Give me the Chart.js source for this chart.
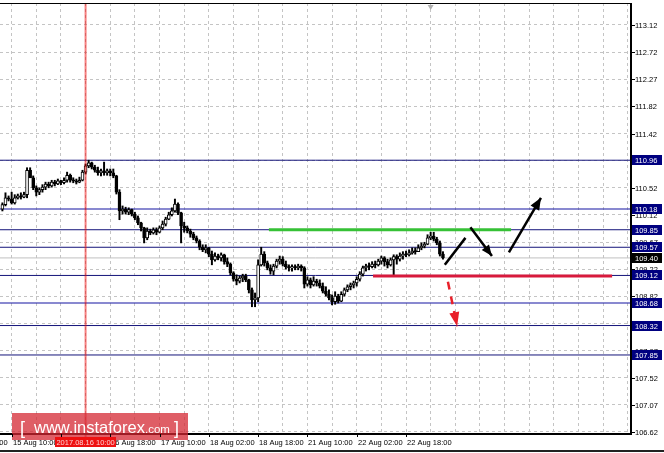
<!DOCTYPE html>
<html><head><meta charset="utf-8">
<script src="https://cdn.jsdelivr.net/npm/chart.js@4/dist/chart.umd.min.js"></script>
<style>html,body{margin:0;padding:0;background:#fff;overflow:hidden}#wrap{width:664px;height:453px;position:relative}</style>
</head><body><div id="wrap"><canvas id="c" width="664" height="453"></canvas></div>
<script>
// ---- Data (H1 candles, index 0 = 15 Aug 07:00) ----
const openP = [110.18,110.25,110.36,110.34,110.28,110.36,110.39,110.37,110.41,110.80,
110.68,110.52,110.45,110.49,110.53,110.58,110.55,110.61,110.58,110.63,
110.60,110.64,110.72,110.64,110.63,110.61,110.64,110.77,110.87,110.92,
110.85,110.80,110.76,110.79,110.76,110.79,110.76,110.71,110.45,110.15,
110.18,110.13,110.17,110.10,110.04,109.96,109.88,109.72,109.83,109.80,
109.85,109.81,109.88,109.94,110.02,110.09,110.15,110.26,110.12,109.91,
109.88,109.83,109.78,109.72,109.67,109.57,109.53,109.56,109.46,109.37,
109.43,109.40,109.45,109.34,109.30,109.16,109.06,109.03,109.08,109.11,
109.05,108.89,108.73,108.76,109.29,109.46,109.32,109.24,109.19,109.27,
109.35,109.38,109.30,109.26,109.24,109.26,109.24,109.27,109.24,108.98,
109.05,108.97,109.03,109.00,108.95,108.87,108.82,108.76,108.70,108.79,
108.71,108.82,108.89,108.94,108.97,109.00,109.06,109.14,109.24,109.27,
109.26,109.30,109.29,109.35,109.40,109.34,109.29,109.37,109.42,109.38,
109.43,109.46,109.45,109.48,109.51,109.50,109.56,109.59,109.62,109.72,
109.75,109.70,109.64,109.46];
const highP = [110.28,110.44,110.39,110.45,110.41,110.42,110.44,110.45,110.84,110.84,
110.71,110.55,110.52,110.57,110.61,110.61,110.64,110.64,110.66,110.64,
110.68,110.77,110.74,110.68,110.66,110.69,110.80,110.90,110.96,110.93,
110.88,110.85,110.82,110.93,110.82,110.82,110.82,110.72,110.49,110.23,
110.21,110.20,110.18,110.13,110.07,109.97,109.89,109.88,109.86,109.88,
109.88,109.91,109.99,110.05,110.13,110.20,110.34,110.28,110.13,109.97,
109.91,109.86,109.81,109.75,109.69,109.61,109.61,109.57,109.51,109.48,
109.46,109.48,109.46,109.40,109.32,109.18,109.13,109.11,109.14,109.14,
109.06,108.92,108.84,109.37,109.57,109.50,109.35,109.29,109.30,109.38,
109.43,109.42,109.35,109.29,109.29,109.29,109.30,109.29,109.26,109.10,
109.08,109.10,109.06,109.05,109.00,108.94,108.89,108.81,108.86,108.82,
108.86,108.92,108.97,109.00,109.03,109.10,109.18,109.27,109.30,109.32,
109.34,109.35,109.38,109.43,109.42,109.38,109.40,109.45,109.45,109.48,
109.50,109.51,109.53,109.56,109.56,109.61,109.64,109.65,109.77,109.81,
109.81,109.73,109.67,109.50];
const lowP = [110.15,110.23,110.31,110.26,110.26,110.34,110.34,110.36,110.36,110.68,
110.49,110.39,110.41,110.45,110.49,110.52,110.53,110.55,110.57,110.57,
110.58,110.61,110.61,110.60,110.58,110.60,110.63,110.74,110.84,110.82,
110.77,110.72,110.71,110.72,110.72,110.71,110.68,110.42,110.01,110.10,
110.10,110.09,110.07,110.01,109.93,109.83,109.64,109.69,109.77,109.78,
109.77,109.80,109.85,109.91,110.01,110.07,110.13,110.09,109.64,109.81,
109.80,109.73,109.69,109.64,109.53,109.50,109.48,109.42,109.29,109.35,
109.37,109.35,109.30,109.26,109.13,109.03,108.97,109.00,109.02,109.02,
108.84,108.62,108.62,108.70,109.27,109.27,109.21,109.14,109.13,109.24,
109.30,109.27,109.22,109.19,109.19,109.21,109.21,109.19,108.92,108.95,
108.92,108.95,108.95,108.92,108.84,108.79,108.73,108.65,108.66,108.68,
108.70,108.79,108.86,108.89,108.92,108.95,109.03,109.11,109.19,109.21,
109.24,109.24,109.27,109.30,109.27,109.24,109.27,109.13,109.30,109.35,
109.38,109.42,109.43,109.46,109.46,109.50,109.53,109.56,109.61,109.69,
109.67,109.61,109.43,109.38];
const closeP = [110.25,110.36,110.34,110.28,110.36,110.39,110.37,110.41,110.80,110.68,
110.52,110.45,110.49,110.53,110.58,110.55,110.61,110.58,110.63,110.60,
110.64,110.72,110.64,110.63,110.61,110.64,110.77,110.87,110.92,110.85,
110.80,110.76,110.79,110.76,110.79,110.76,110.71,110.45,110.15,110.18,
110.13,110.17,110.10,110.04,109.96,109.88,109.72,109.83,109.80,109.85,
109.81,109.88,109.94,110.02,110.09,110.15,110.26,110.12,109.91,109.88,
109.83,109.78,109.72,109.67,109.57,109.53,109.56,109.46,109.37,109.43,
109.40,109.45,109.34,109.30,109.16,109.06,109.03,109.08,109.11,109.05,
108.89,108.73,108.76,109.29,109.46,109.32,109.24,109.19,109.27,109.35,
109.38,109.30,109.26,109.24,109.26,109.24,109.27,109.24,108.98,109.05,
108.97,109.03,109.00,108.95,108.87,108.82,108.76,108.70,108.79,108.71,
108.82,108.89,108.94,108.97,109.00,109.06,109.14,109.24,109.27,109.26,
109.30,109.29,109.35,109.40,109.34,109.29,109.37,109.42,109.38,109.43,
109.46,109.45,109.48,109.51,109.50,109.56,109.59,109.62,109.72,109.75,
109.70,109.64,109.46,109.40];

const xLabelIdx = [-13,3,19,35,51,67,83,99,115,131];
const xLabels = ['14 Aug 18:00','15 Aug 10:00','16 Aug 02:00','16 Aug 18:00','17 Aug 10:00','18 Aug 02:00','18 Aug 18:00','21 Aug 10:00','22 Aug 02:00','22 Aug 18:00'];
const yTickLabels = ['106.62','107.07','107.52','107.97','108.37','108.82','109.22','109.67','110.12','110.52','110.97','111.42','111.82','112.27','112.72','113.12'];
const levels = [110.96,110.18,109.85,109.57,109.12,108.68,108.32,107.85];
const levelLabels = ['110.96','110.18','109.85','109.57','109.12','108.68','108.32','107.85'];
const softLevels = [110.18,108.68];
const currentPrice = 109.40;
const markerIdx = 27;
const markerLabel = '2017.08.16 10:00';
const greenSeg = [[86.5,109.85],[165.1,109.85]];
const redSeg = [[120.3,109.11],[197.9,109.11]];
const zigSeg = [[143.6,109.29],[150.3,109.72]];
const downArrow = [[151.9,109.89],[158.9,109.43]];
const upArrow = [[164.4,109.49],[174.8,110.36]];
const redArrow = [[144.6,109.02],[147.6,108.31]];

// ---- scale geometry ----
const Y_MIN = 106.588, Y_MAX = 113.471;
const X_MIN = -0.779, X_MAX = 204.03;
const yTickVals = yTickLabels.map((t,k)=>106.62 + k*(113.12-106.62)/(yTickLabels.length-1));
const xGridVals = []; for(let v=3; v<=X_MAX; v+=8) xGridVals.push(v);

const idx = openP.map((_,i)=>i);
const wickData = idx.map(i=>({x:i, y:[lowP[i], highP[i]]}));
const bodyData = idx.map(i=>({x:i, y:[openP[i], closeP[i]]}));
const seg = a => a.map(p=>({x:p[0], y:p[1]}));

const lineDs = (data, color, width, order, extra) => Object.assign({
  type:'line', data, borderColor:color, borderWidth:width, pointRadius:0,
  fill:false, tension:0, order, clip:0, borderCapStyle:'butt'
}, extra||{});

const datasets = [];
levels.forEach(v=>{
  const soft = softLevels.includes(v);
  datasets.push(lineDs([{x:-2,y:v},{x:206,y:v}], soft?'rgba(40,40,170,0.55)':'#14147a', soft?2:1, 20));
});
datasets.push(lineDs([{x:-2,y:currentPrice},{x:206,y:currentPrice}], '#c0c0c0', 1, 21));
datasets.push({type:'bar', data:wickData, backgroundColor:'#000', borderWidth:0, barThickness:1.3, grouped:false, order:11, minBarLength:1});
datasets.push({type:'bar', data:bodyData, grouped:false, order:10, barThickness:3, minBarLength:1,
  backgroundColor: c => (closeP[c.dataIndex] >= openP[c.dataIndex] ? '#ffffff' : '#000000'),
  borderColor:'#000', borderWidth:1, borderSkipped:false});
datasets.push(lineDs(seg(greenSeg), '#36c136', 3, 5));
datasets.push(lineDs(seg(redSeg), '#d81a3c', 3, 5));
datasets.push(lineDs(seg(zigSeg), '#000', 2.5, 1));
datasets.push(lineDs(seg(downArrow), '#000', 2.5, 1, {arrowHead:{len:11,w:9}}));
datasets.push(lineDs(seg(upArrow), '#000', 2.5, 1, {arrowHead:{len:12,w:10}}));
datasets.push(lineDs(seg(redArrow), '#e8202a', 2.5, 1, {borderDash:[8,7], arrowHead:{len:14,w:10}}));

const FONT = '7.5px "Liberation Sans", Arial, sans-serif';

const deco = {
  id:'deco',
  afterDatasetsDraw(chart){
    const {ctx, chartArea:ca, scales:{x,y}} = chart;
    ctx.save();
    chart.data.datasets.forEach((ds,di)=>{
      if(!ds.arrowHead) return;
      const m = chart.getDatasetMeta(di);
      const p0 = m.data[0], p1 = m.data[1];
      const a = Math.atan2(p1.y-p0.y, p1.x-p0.x);
      const L = ds.arrowHead.len, W = ds.arrowHead.w;
      const bx = p1.x - Math.cos(a)*L, by = p1.y - Math.sin(a)*L;
      const px = -Math.sin(a)*W/2, py = Math.cos(a)*W/2;
      ctx.fillStyle = ds.borderColor;
      ctx.beginPath(); ctx.moveTo(p1.x,p1.y); ctx.lineTo(bx+px,by+py); ctx.lineTo(bx-px,by-py); ctx.closePath(); ctx.fill();
    });
    const mx = x.getPixelForValue(markerIdx);
    ctx.strokeStyle = 'rgba(240,0,0,0.5)'; ctx.lineWidth = 2;
    ctx.beginPath(); ctx.moveTo(mx, ca.top); ctx.lineTo(mx, 437); ctx.stroke();
    // small gray marker near the top
    ctx.fillStyle = '#b0b0b0';
    const gx = x.getPixelForValue(139);
    ctx.beginPath(); ctx.moveTo(gx-3, ca.top+2); ctx.lineTo(gx+3, ca.top+2); ctx.lineTo(gx, ca.top+7); ctx.closePath(); ctx.fill();
    ctx.restore();
  },
  afterDraw(chart){
    const {ctx, chartArea:ca, scales:{x,y}} = chart;
    const W = chart.width;
    ctx.save();
    ctx.fillStyle = '#000';
    ctx.fillRect(0, ca.top, ca.right, 1);
    ctx.fillRect(ca.right-1, ca.top, 2, ca.bottom-ca.top+1);
    ctx.fillRect(0, ca.bottom-1, ca.right+1, 2);
    ctx.font = FONT; ctx.textBaseline = 'middle'; ctx.textAlign = 'left';
    yTickVals.forEach((v,k)=>{
      const py = Math.round(y.getPixelForValue(v));
      ctx.fillStyle = '#000';
      ctx.fillRect(ca.right+1, py, 3, 1);
      ctx.fillText(yTickLabels[k], ca.right+4, py+0.5);
    });
    const box = (v, txt, bg) => {
      const py = y.getPixelForValue(v);
      ctx.fillStyle = bg;
      ctx.fillRect(ca.right+1, Math.round(py-5), W-ca.right-3, 10);
      ctx.fillStyle = '#fff';
      ctx.fillText(txt, ca.right+4, Math.round(py)+0.5);
    };
    levels.forEach((v,k)=>box(v, levelLabels[k], '#000080'));
    box(currentPrice, currentPrice.toFixed(2), '#000');
    // watermark
    ctx.fillStyle = 'rgba(212,38,48,0.74)';
    ctx.fillRect(12, 413, 176, 27);
    ctx.fillStyle = '#fff'; ctx.textBaseline = 'alphabetic';
    ctx.font = '18px "Liberation Sans", Arial, sans-serif';
    ctx.fillText('[', 20, 434);
    ctx.font = '16.5px "Liberation Sans", Arial, sans-serif';
    ctx.fillText('www.instaforex', 34, 433);
    const w1 = ctx.measureText('www.instaforex').width;
    ctx.font = '11.5px "Liberation Sans", Arial, sans-serif';
    ctx.fillText('.com', 34+w1, 433);
    const w2 = ctx.measureText('.com').width;
    ctx.font = '18px "Liberation Sans", Arial, sans-serif';
    ctx.fillText(']', 34+w1+w2+4, 434);
    // x labels
    ctx.font = FONT; ctx.textBaseline = 'middle'; ctx.textAlign = 'left';
    xLabelIdx.forEach((v,k)=>{
      const px = Math.round(x.getPixelForValue(v));
      ctx.fillStyle = '#000';
      ctx.fillRect(px, ca.bottom, 1, 3);
      ctx.fillText(xLabels[k], px+1, 442.5);
    });
    const mx = x.getPixelForValue(markerIdx);
    ctx.fillStyle = '#ee1111';
    ctx.fillRect(Math.round(mx-31), 437, 61, 10);
    ctx.fillStyle = '#ffd0d0'; ctx.textAlign = 'center';
    ctx.fillText(markerLabel, mx, 442.5);
    ctx.fillStyle = '#222';
    ctx.fillRect(0, 450, W, 2);
    ctx.restore();
  }
};

new Chart(document.getElementById('c'), {
  type:'bar',
  data:{datasets},
  options:{
    responsive:false, animation:false, devicePixelRatio:1,
    layout:{padding:{left:0, right:0, top:3, bottom:0}},
    plugins:{legend:{display:false}, tooltip:{enabled:false}},
    scales:{
      x:{type:'linear', min:X_MIN, max:X_MAX, offset:false,
        grid:{color:'#c4c4c4', lineWidth:1, drawTicks:false, offset:false},
        border:{display:false, dash:[3,3]},
        ticks:{display:false},
        afterBuildTicks: s => { s.ticks = xGridVals.map(v=>({value:v})); },
        afterFit: s => { s.height = 19; }
      },
      y:{type:'linear', position:'right', min:Y_MIN, max:Y_MAX,
        grid:{color:'#c4c4c4', lineWidth:1, drawTicks:false},
        border:{display:false, dash:[3,3]},
        ticks:{display:false},
        afterBuildTicks: s => { s.ticks = yTickVals.map(v=>({value:v})); },
        afterFit: s => { s.width = 33; }
      }
    }
  },
  plugins:[deco]
});
</script>
</body></html>
